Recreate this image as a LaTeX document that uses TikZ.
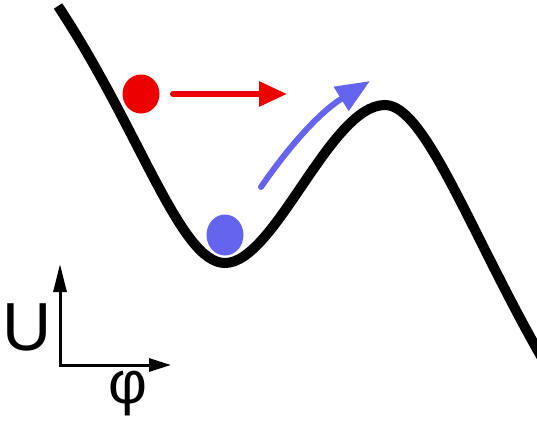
\documentclass[tikz,border=0pt]{standalone}
\usepackage{fontspec}
\setmainfont{Liberation Sans}
\usetikzlibrary{arrows.meta,shapes.geometric}
\definecolor{dotred}{RGB}{236,0,0}
\definecolor{dotblue}{RGB}{100,100,238}
\tikzset{
  potential/.style={line width=10pt, line cap=butt, line join=round},
  axisarrow/.style={line width=3pt},
  movearrow/.style={line width=6pt, line cap=round},
  ball/.style={ellipse, minimum width=37pt, minimum height=39pt, inner sep=0pt}
}
\begin{document}
\begin{tikzpicture}[x=1pt,y=-1pt]
\useasboundingbox (0,0) rectangle (537,423);
\fill[white] (0,0) rectangle (537,423);
% potential curve
\coordinate (c0) at (58,6);
\coordinate (c1) at (225,263);
\coordinate (c2) at (385,105);
\coordinate (c3) at (542,358);
\draw[potential] (c0) .. controls (140,130) and (180,263) .. (c1)
  .. controls (275,263) and (330,105) .. (c2)
  .. controls (425,105) and (470,232) .. (c3);
% balls
\node[ball, fill=dotred] (red) at (141,94) {};
\node[ball, fill=dotblue, minimum height=41pt] (blue) at (225,235) {};
% arrows
\coordinate (rs) at (173,94);
\coordinate (re) at (287,94);
\draw[movearrow, draw=dotred, -{Triangle[length=28pt,width=24pt]}] (rs) -- (re);
\coordinate (bs) at (261,187);
\coordinate (be) at (370,81);
\draw[movearrow, draw=dotblue, -{Triangle[length=34pt,width=27pt]}] (bs) .. controls (290,145) and (320,112) .. (be);
% axes
\coordinate (o) at (60,365);
\coordinate (ytip) at (60,264);
\coordinate (xtip) at (171,365);
\draw[axisarrow, -{Triangle[length=28pt,width=13pt]}] (o) -- (ytip);
\draw[axisarrow, -{Triangle[length=22pt,width=13pt]}, line cap=rect] (o) -- (xtip);
\node[font=\fontsize{68}{68}\selectfont, inner sep=0pt] (U) at (27,327) {U};
\node[font=\fontsize{60}{60}\selectfont, inner sep=0pt] (phi) at (128,394) {φ};
\end{tikzpicture}
\end{document}
